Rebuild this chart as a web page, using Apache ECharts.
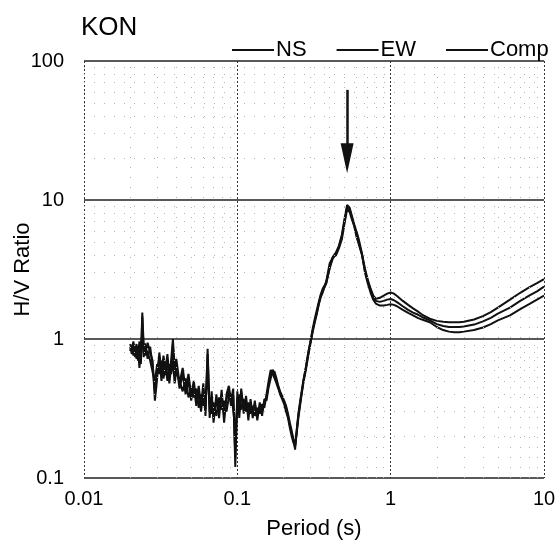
<!DOCTYPE html>
<html>
<head>
<meta charset="utf-8">
<script src="https://cdn.jsdelivr.net/npm/echarts@6/dist/echarts.min.js"></script>
<style>
  html, body { margin: 0; padding: 0; background: #fff; }
  #chart { width: 559px; height: 547px; }
</style>
</head>
<body>
<div id="chart"></div>
<script>
// H/V spectral ratio at station KON, three components against period
const stationName = 'KON';
const seriesNames = ['NS', 'EW', 'Comp'];

const periods = [
  0.020, 0.0205, 0.021, 0.0215, 0.022, 0.0225, 0.023, 0.0235, 0.024, 0.0245,
  0.025, 0.026, 0.027, 0.028, 0.029, 0.030, 0.031, 0.032, 0.033, 0.034,
  0.035, 0.036, 0.037, 0.038, 0.039, 0.040, 0.042, 0.044, 0.046, 0.048,
  0.050, 0.052, 0.054, 0.056, 0.058, 0.060, 0.062, 0.064, 0.066, 0.068,
  0.070, 0.073, 0.076, 0.079, 0.082, 0.085, 0.088, 0.091, 0.094, 0.097,
  0.100, 0.103, 0.106, 0.110, 0.114, 0.118, 0.122, 0.126, 0.130, 0.135,
  0.140, 0.145, 0.150, 0.155, 0.160, 0.165, 0.170, 0.175, 0.180, 0.185,
  0.190, 0.196, 0.202, 0.208, 0.214, 0.220, 0.226, 0.232, 0.238, 0.244,
  0.250, 0.26, 0.27, 0.28, 0.29, 0.30, 0.31, 0.32, 0.33, 0.34,
  0.35, 0.36, 0.38, 0.40, 0.42, 0.44, 0.46, 0.48, 0.50, 0.52,
  0.54, 0.56, 0.58, 0.60, 0.62, 0.65, 0.68, 0.71, 0.74, 0.77,
  0.80, 0.85, 0.90, 0.95, 1.0, 1.05, 1.1, 1.2, 1.3, 1.4,
  1.5, 1.6, 1.8, 2.0, 2.2, 2.4, 2.6, 2.8, 3.0, 3.5,
  4.0, 4.5, 5.0, 6.0, 7.0, 8.0, 9.0, 10.0
];

const nsRatio = [
  0.82, 0.90, 0.76, 0.88, 0.72, 0.84, 0.62, 0.88, 1.10, 0.74,
  0.86, 0.80, 0.70, 0.58, 0.50, 0.66, 0.56, 0.70, 0.52, 0.64,
  0.50, 0.66, 0.56, 0.70, 0.48, 0.58, 0.50, 0.42, 0.52, 0.38,
  0.44, 0.38, 0.44, 0.32, 0.40, 0.33, 0.40, 0.52, 0.34, 0.29,
  0.35, 0.28, 0.38, 0.31, 0.36, 0.30, 0.38, 0.40, 0.31, 0.22,
  0.32, 0.40, 0.31, 0.37, 0.30, 0.35, 0.29, 0.33, 0.28, 0.32,
  0.29, 0.34, 0.32, 0.40, 0.50, 0.60, 0.56, 0.52, 0.48, 0.44,
  0.40, 0.37, 0.34, 0.30, 0.27, 0.23, 0.20, 0.18, 0.17, 0.21,
  0.27, 0.37, 0.49, 0.60, 0.76, 0.93, 1.12, 1.32, 1.52, 1.78,
  2.0, 2.15, 2.6, 3.5, 3.9, 4.2, 4.7, 5.6, 7.3, 9.2,
  8.8, 7.6, 6.6, 5.6, 4.9, 4.1, 3.2, 2.65, 2.3, 2.05,
  1.95, 1.98, 2.05, 2.12, 2.16, 2.12, 2.04, 1.88, 1.76, 1.66,
  1.58, 1.50, 1.40, 1.35, 1.33, 1.32, 1.32, 1.32, 1.33, 1.38,
  1.46, 1.56, 1.68, 1.92, 2.15, 2.35, 2.52, 2.70
];

const ewRatio = [
  0.92, 0.84, 0.96, 0.80, 0.92, 0.78, 0.96, 0.72, 1.55, 0.90,
  0.76, 0.94, 0.80, 0.70, 0.36, 0.52, 0.80, 0.58, 0.76, 0.60,
  0.78, 0.54, 0.70, 1.00, 0.62, 0.72, 0.48, 0.62, 0.44, 0.56,
  0.40, 0.50, 0.36, 0.46, 0.33, 0.48, 0.28, 0.85, 0.27, 0.42,
  0.25, 0.40, 0.27, 0.43, 0.25, 0.40, 0.46, 0.36, 0.44, 0.12,
  0.42, 0.27, 0.44, 0.29, 0.39, 0.26, 0.37, 0.27, 0.36, 0.26,
  0.35, 0.28, 0.37, 0.36, 0.45, 0.52, 0.60, 0.58, 0.52, 0.46,
  0.42, 0.39, 0.36, 0.33, 0.29, 0.25, 0.22, 0.19, 0.16, 0.22,
  0.29, 0.39, 0.51, 0.63, 0.80, 0.97, 1.18, 1.40, 1.62, 1.85,
  2.1, 2.3, 2.55, 3.2, 3.9, 4.0, 4.5, 5.2, 6.8, 8.6,
  8.2, 7.2, 6.5, 5.9, 5.2, 4.1, 3.0, 2.5, 2.15, 1.92,
  1.80, 1.74, 1.74, 1.76, 1.78, 1.76, 1.72, 1.62, 1.54, 1.48,
  1.42, 1.38, 1.32, 1.22, 1.16, 1.13, 1.12, 1.12, 1.13, 1.16,
  1.21, 1.28, 1.36, 1.48, 1.64, 1.78, 1.92, 2.05
];

const compRatio = [
  0.88, 0.78, 0.92, 0.74, 0.86, 0.70, 0.90, 0.66, 1.45, 0.80,
  0.93, 0.72, 0.88, 0.64, 0.42, 0.58, 0.74, 0.50, 0.68, 0.55,
  0.72, 0.48, 0.62, 0.92, 0.55, 0.66, 0.44, 0.56, 0.40, 0.50,
  0.36, 0.46, 0.33, 0.42, 0.30, 0.44, 0.31, 0.78, 0.30, 0.38,
  0.27, 0.36, 0.30, 0.40, 0.28, 0.37, 0.42, 0.33, 0.40, 0.14,
  0.38, 0.30, 0.42, 0.32, 0.36, 0.29, 0.35, 0.30, 0.34, 0.28,
  0.33, 0.30, 0.35, 0.38, 0.47, 0.55, 0.58, 0.55, 0.50, 0.45,
  0.41, 0.38, 0.35, 0.32, 0.28, 0.24, 0.21, 0.19, 0.17, 0.22,
  0.28, 0.38, 0.50, 0.62, 0.78, 0.95, 1.15, 1.35, 1.55, 1.80,
  2.05, 2.2, 2.5, 3.3, 3.8, 4.1, 4.6, 5.4, 7.0, 8.9,
  8.6, 7.4, 6.4, 5.4, 4.8, 4.0, 3.1, 2.6, 2.25, 2.0,
  1.88, 1.85, 1.88, 1.92, 1.94, 1.90, 1.84, 1.72, 1.62, 1.55,
  1.50, 1.44, 1.36, 1.28, 1.24, 1.22, 1.22, 1.22, 1.23, 1.27,
  1.34, 1.42, 1.52, 1.68, 1.88, 2.05, 2.20, 2.38
];

// Axis decades and their printed labels
const periodTicks = [0.01, 0.1, 1, 10];
const periodTickLabels = ['0.01', '0.1', '1', '10'];
const ratioTicks = [0.1, 1, 10, 100];
const ratioTickLabels = ['0.1', '1', '10', '100'];

// Intermediate grid values (2..9 within each decade)
const periodMinor = [0.02, 0.03, 0.04, 0.05, 0.06, 0.07, 0.08, 0.09,
                     0.2, 0.3, 0.4, 0.5, 0.6, 0.7, 0.8, 0.9,
                     2, 3, 4, 5, 6, 7, 8, 9];
const ratioMinor = [0.2, 0.3, 0.4, 0.5, 0.6, 0.7, 0.8, 0.9,
                    2, 3, 4, 5, 6, 7, 8, 9,
                    20, 30, 40, 50, 60, 70, 80, 90];

// Arrow pointing at the predominant period
const peakPeriod = 0.52;
const arrowFrom = 62;
const arrowTo = 20;

function pairs(values) {
  return periods.map((p, i) => [p, values[i]]);
}
function labelFor(ticks, labels) {
  return v => {
    for (let i = 0; i < ticks.length; i++) {
      if (Math.abs(Math.log10(v) - Math.log10(ticks[i])) < 1e-6) return labels[i];
    }
    return '';
  };
}

const font = '"Liberation Sans", Arial, sans-serif';
const lineColor = '#111';

const minorLines = [];
periodMinor.forEach(p => minorLines.push({ xAxis: p }));
ratioMinor.forEach(r => minorLines.push({ yAxis: r }));

const chart = echarts.init(document.getElementById('chart'), null, { renderer: 'canvas' });

chart.setOption({
  animation: false,
  backgroundColor: '#fff',
  textStyle: { fontFamily: font, color: '#000' },
  title: {
    text: stationName,
    left: 76, top: 10,
    textStyle: { fontFamily: font, fontSize: 26, fontWeight: 'normal', color: '#000' }
  },
  legend: {
    data: seriesNames,
    left: 227, top: 34,
    icon: 'rect',
    itemWidth: 42, itemHeight: 2,
    itemGap: 30,
    textStyle: { fontFamily: font, fontSize: 22, color: '#000', padding: [0, 0, 0, -3] }
  },
  grid: { left: 84, right: 15, top: 61, bottom: 69, outerBoundsMode: 'none' },
  xAxis: {
    type: 'log', logBase: 10, min: 0.01, max: 10,
    name: 'Period (s)', nameLocation: 'middle', nameGap: 40, nameMoveOverlap: false,
    nameTextStyle: { fontFamily: font, fontSize: 22, color: '#000' },
    axisLine: { show: false },
    axisTick: { show: false },
    axisLabel: {
      formatter: labelFor(periodTicks, periodTickLabels),
      fontFamily: font, fontSize: 20, color: '#000', margin: 11
    },
    splitLine: { show: true, lineStyle: { color: '#333', width: 1, type: [2, 2] } }
  },
  yAxis: {
    type: 'log', logBase: 10, min: 0.1, max: 100,
    name: 'H/V Ratio', nameLocation: 'middle', nameGap: 50, nameMoveOverlap: false,
    nameTextStyle: { fontFamily: font, fontSize: 22, color: '#000' },
    axisLine: { show: false },
    axisTick: { show: false },
    axisLabel: {
      formatter: labelFor(ratioTicks, ratioTickLabels),
      fontFamily: font, fontSize: 20, color: '#000', margin: 20
    },
    splitLine: { show: true, lineStyle: { color: '#222', width: 1.5 } }
  },
  series: [
    {
      name: 'NS', type: 'line', data: pairs(nsRatio),
      symbol: 'none', lineStyle: { color: lineColor, width: 2 }, itemStyle: { color: lineColor },
      z: 3,
      markLine: {
        silent: true, symbol: 'none', animation: false,
        label: { show: false },
        lineStyle: { color: '#b5b5b5', width: 1, type: [1, 9] },
        data: minorLines
      }
    },
    {
      name: 'EW', type: 'line', data: pairs(ewRatio),
      symbol: 'none', lineStyle: { color: lineColor, width: 2 }, itemStyle: { color: lineColor },
      z: 3
    },
    {
      name: 'Comp', type: 'line', data: pairs(compRatio),
      symbol: 'none', lineStyle: { color: lineColor, width: 2 }, itemStyle: { color: lineColor },
      z: 4,
      markLine: {
        silent: true, animation: false,
        label: { show: false },
        lineStyle: { color: '#111', width: 2.5, type: 'solid' },
        data: [[
          { coord: [peakPeriod, arrowFrom], symbol: 'none' },
          { coord: [peakPeriod, arrowTo], symbol: 'triangle', symbolSize: [13, 30] }
        ]]
      }
    }
  ]
});
</script>
</body>
</html>
